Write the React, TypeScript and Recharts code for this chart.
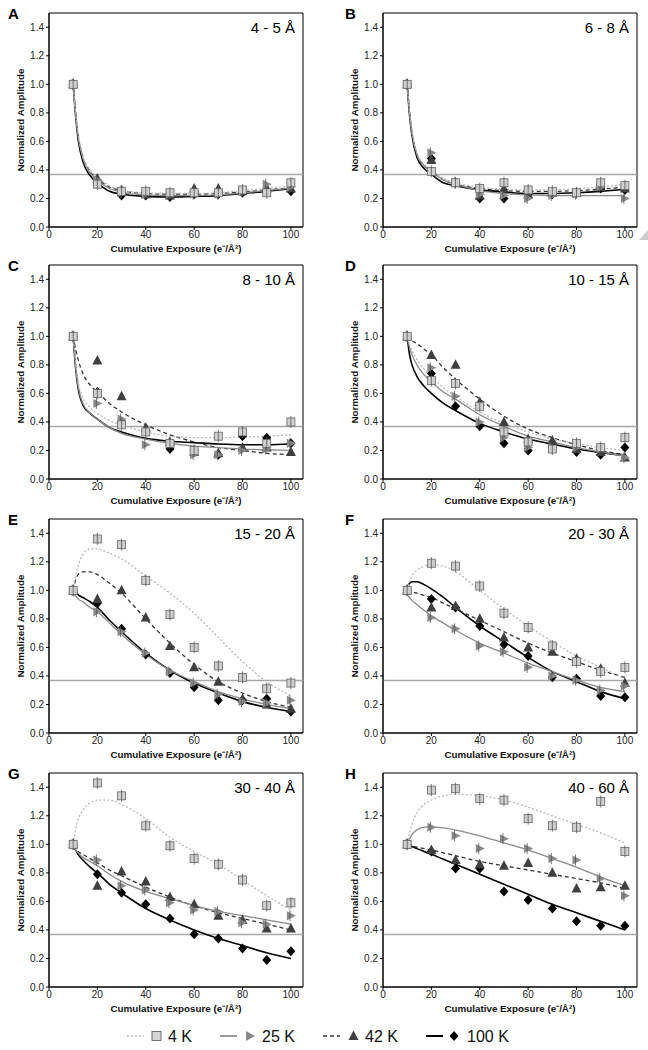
import React from 'react';
import { ComposedChart, Line, Scatter, XAxis, YAxis, ReferenceLine, ReferenceArea } from 'recharts';

// Exposure values of measured points (e-/Å2)
const EXPOSURE = [10, 20, 30, 40, 50, 60, 70, 80, 90, 100];
// Exposure values at which the fitted curves were read
const FIT_X = [10, 11, 12, 14, 17, 20, 25, 30, 40, 50, 60, 70, 80, 90, 100];
const X_TICKS = [0, 20, 40, 60, 80, 100];
const Y_TICKS = [0, 0.2, 0.4, 0.6, 0.8, 1.0, 1.2, 1.4];
const TEMPS = ['4 K', '25 K', '42 K', '100 K'];
const LETTERS = ['A', 'B', 'C', 'D', 'E', 'F', 'G', 'H'];
const TITLES = ['4 - 5 Å', '6 - 8 Å', '8 - 10 Å', '10 - 15 Å', '15 - 20 Å', '20 - 30 Å', '30 - 40 Å', '40 - 60 Å'];
const ONE_OVER_E = 0.368;

// Panel A 4-5 Å
const A_4K = [1.0, 0.30, 0.25, 0.25, 0.24, 0.24, 0.24, 0.26, 0.24, 0.31];
const A_25K = [1.0, 0.33, 0.24, 0.23, 0.23, 0.23, 0.23, 0.25, 0.30, 0.28];
const A_42K = [1.0, 0.34, 0.26, 0.23, 0.22, 0.27, 0.27, 0.25, 0.27, 0.27];
const A_100K = [1.0, 0.32, 0.22, 0.22, 0.21, 0.23, 0.23, 0.24, 0.26, 0.25];
const A_FIT_4K = [1.0, 0.80, 0.66, 0.50, 0.40, 0.35, 0.29, 0.26, 0.24, 0.235, 0.235, 0.24, 0.255, 0.27, 0.29];
const A_FIT_25K = [1.0, 0.79, 0.64, 0.48, 0.38, 0.33, 0.27, 0.245, 0.225, 0.22, 0.22, 0.225, 0.24, 0.255, 0.275];
const A_FIT_42K = [1.0, 0.80, 0.65, 0.49, 0.39, 0.34, 0.28, 0.255, 0.235, 0.23, 0.23, 0.235, 0.245, 0.26, 0.275];
const A_FIT_100K = [1.0, 0.78, 0.62, 0.46, 0.36, 0.31, 0.25, 0.23, 0.215, 0.21, 0.215, 0.22, 0.235, 0.25, 0.27];

// Panel B 6-8 Å
const B_4K = [1.0, 0.39, 0.31, 0.27, 0.31, 0.26, 0.25, 0.24, 0.31, 0.29];
const B_25K = [1.0, 0.52, 0.31, 0.23, 0.22, 0.20, 0.22, 0.23, 0.28, 0.20];
const B_42K = [1.0, 0.47, 0.31, 0.22, 0.27, 0.23, 0.24, 0.24, 0.28, 0.27];
const B_100K = [1.0, 0.48, 0.31, 0.20, 0.20, 0.23, 0.23, 0.24, 0.27, 0.26];
const B_FIT_4K = [1.0, 0.81, 0.67, 0.52, 0.44, 0.40, 0.34, 0.31, 0.28, 0.265, 0.26, 0.26, 0.27, 0.28, 0.30];
const B_FIT_25K = [1.0, 0.80, 0.66, 0.51, 0.43, 0.39, 0.33, 0.30, 0.255, 0.235, 0.225, 0.22, 0.22, 0.22, 0.22];
const B_FIT_42K = [1.0, 0.80, 0.66, 0.51, 0.43, 0.39, 0.33, 0.30, 0.27, 0.255, 0.25, 0.25, 0.255, 0.265, 0.28];
const B_FIT_100K = [1.0, 0.78, 0.64, 0.49, 0.41, 0.37, 0.31, 0.29, 0.26, 0.245, 0.235, 0.235, 0.24, 0.25, 0.265];

// Panel C 8-10 Å
const C_4K = [1.0, 0.60, 0.38, 0.33, 0.25, 0.20, 0.30, 0.33, 0.25, 0.40];
const C_25K = [1.0, 0.53, 0.42, 0.24, 0.25, 0.17, 0.17, 0.20, 0.21, 0.25];
const C_42K = [1.0, 0.83, 0.58, 0.36, 0.26, 0.19, 0.18, 0.22, 0.22, 0.19];
const C_100K = [1.0, 0.61, 0.40, 0.34, 0.21, 0.20, 0.17, 0.30, 0.29, 0.25];
const C_FIT_4K = [1.0, 0.82, 0.69, 0.57, 0.50, 0.46, 0.41, 0.38, 0.33, 0.30, 0.29, 0.29, 0.295, 0.30, 0.31];
const C_FIT_25K = [1.0, 0.79, 0.65, 0.53, 0.46, 0.42, 0.36, 0.32, 0.28, 0.25, 0.23, 0.22, 0.21, 0.205, 0.20];
const C_FIT_42K = [1.0, 0.91, 0.84, 0.74, 0.66, 0.61, 0.53, 0.47, 0.38, 0.31, 0.26, 0.22, 0.20, 0.18, 0.17];
const C_FIT_100K = [1.0, 0.78, 0.64, 0.52, 0.46, 0.42, 0.36, 0.33, 0.285, 0.265, 0.255, 0.245, 0.24, 0.24, 0.245];

// Panel D 10-15 Å
const D_4K = [1.0, 0.69, 0.67, 0.51, 0.33, 0.26, 0.21, 0.25, 0.22, 0.29];
const D_25K = [1.0, 0.78, 0.58, 0.40, 0.29, 0.22, 0.22, 0.22, 0.21, 0.15];
const D_42K = [1.0, 0.87, 0.80, 0.54, 0.40, 0.28, 0.27, 0.21, 0.19, 0.15];
const D_100K = [1.0, 0.74, 0.51, 0.37, 0.25, 0.20, 0.22, 0.19, 0.17, 0.22];
const D_FIT_4K = [1.0, 0.94, 0.90, 0.84, 0.77, 0.72, 0.64, 0.58, 0.47, 0.39, 0.33, 0.28, 0.25, 0.22, 0.20];
const D_FIT_25K = [1.0, 0.92, 0.87, 0.80, 0.73, 0.68, 0.61, 0.56, 0.45, 0.37, 0.30, 0.26, 0.22, 0.19, 0.16];
const D_FIT_42K = [1.0, 0.99, 0.97, 0.95, 0.91, 0.87, 0.78, 0.70, 0.56, 0.44, 0.35, 0.29, 0.24, 0.20, 0.17];
const D_FIT_100K = [1.0, 0.87, 0.80, 0.72, 0.65, 0.60, 0.53, 0.48, 0.39, 0.33, 0.28, 0.245, 0.21, 0.185, 0.165];

// Panel E 15-20 Å
const E_4K = [1.0, 1.36, 1.32, 1.07, 0.83, 0.60, 0.47, 0.39, 0.31, 0.35];
const E_25K = [1.0, 0.85, 0.71, 0.56, 0.43, 0.35, 0.27, 0.22, 0.21, 0.23];
const E_42K = [1.0, 0.94, 1.00, 0.81, 0.61, 0.46, 0.36, 0.24, 0.20, 0.17];
const E_100K = [1.0, 0.91, 0.73, 0.55, 0.42, 0.32, 0.23, 0.23, 0.24, 0.15];
const E_FIT_4K = [1.0, 1.10, 1.17, 1.25, 1.29, 1.29, 1.26, 1.22, 1.10, 0.98, 0.84, 0.67, 0.50, 0.36, 0.26];
const E_FIT_25K = [0.97, 0.96, 0.94, 0.92, 0.88, 0.85, 0.77, 0.69, 0.55, 0.44, 0.36, 0.29, 0.24, 0.20, 0.17];
const E_FIT_42K = [1.0, 1.07, 1.11, 1.13, 1.13, 1.11, 1.05, 0.98, 0.80, 0.63, 0.48, 0.36, 0.28, 0.22, 0.18];
const E_FIT_100K = [1.0, 0.99, 0.97, 0.95, 0.92, 0.88, 0.79, 0.71, 0.56, 0.44, 0.35, 0.28, 0.22, 0.18, 0.15];

// Panel F 20-30 Å
const F_4K = [1.0, 1.19, 1.17, 1.03, 0.84, 0.74, 0.61, 0.50, 0.43, 0.46];
const F_25K = [1.0, 0.81, 0.73, 0.61, 0.57, 0.46, 0.40, 0.37, 0.30, 0.33];
const F_42K = [1.0, 0.88, 0.89, 0.80, 0.67, 0.60, 0.57, 0.52, 0.45, 0.35];
const F_100K = [1.0, 0.94, 0.88, 0.75, 0.62, 0.54, 0.39, 0.38, 0.26, 0.25];
const F_FIT_4K = [1.0, 1.06, 1.10, 1.14, 1.17, 1.18, 1.17, 1.13, 1.00, 0.87, 0.75, 0.64, 0.54, 0.46, 0.38];
const F_FIT_25K = [0.97, 0.95, 0.93, 0.90, 0.86, 0.82, 0.77, 0.72, 0.63, 0.56, 0.49, 0.43, 0.37, 0.32, 0.29];
const F_FIT_42K = [1.0, 0.995, 0.99, 0.98, 0.965, 0.95, 0.91, 0.87, 0.79, 0.71, 0.63, 0.56, 0.50, 0.44, 0.39];
const F_FIT_100K = [1.02, 1.05, 1.06, 1.06, 1.04, 1.01, 0.95, 0.88, 0.75, 0.64, 0.53, 0.43, 0.36, 0.29, 0.24];

// Panel G 30-40 Å
const G_4K = [1.0, 1.43, 1.34, 1.13, 0.99, 0.90, 0.86, 0.75, 0.57, 0.59];
const G_25K = [1.0, 0.89, 0.71, 0.68, 0.59, 0.54, 0.53, 0.45, 0.44, 0.50];
const G_42K = [1.0, 0.71, 0.81, 0.74, 0.63, 0.58, 0.50, 0.47, 0.41, 0.41];
const G_100K = [1.0, 0.79, 0.66, 0.58, 0.48, 0.37, 0.34, 0.27, 0.19, 0.25];
const G_FIT_4K = [1.0, 1.10, 1.17, 1.24, 1.29, 1.31, 1.31, 1.28, 1.18, 1.05, 0.95, 0.86, 0.75, 0.64, 0.54];
const G_FIT_25K = [0.98, 0.96, 0.94, 0.91, 0.88, 0.85, 0.79, 0.74, 0.67, 0.62, 0.57, 0.53, 0.50, 0.47, 0.44];
const G_FIT_42K = [0.99, 0.97, 0.95, 0.93, 0.90, 0.87, 0.82, 0.78, 0.70, 0.63, 0.57, 0.52, 0.48, 0.44, 0.40];
const G_FIT_100K = [0.98, 0.96, 0.93, 0.89, 0.84, 0.80, 0.72, 0.66, 0.55, 0.47, 0.40, 0.34, 0.29, 0.24, 0.20];

// Panel H 40-60 Å
const H_4K = [1.0, 1.38, 1.39, 1.32, 1.31, 1.18, 1.13, 1.12, 1.30, 0.95];
const H_25K = [1.0, 1.12, 1.06, 0.97, 1.04, 0.97, 0.90, 0.89, 0.76, 0.64];
const H_42K = [1.0, 0.96, 0.89, 0.86, 0.85, 0.87, 0.80, 0.69, 0.70, 0.71];
const H_100K = [1.0, 0.95, 0.83, 0.83, 0.67, 0.61, 0.55, 0.46, 0.43, 0.43];
const H_FIT_4K = [1.0, 1.08, 1.14, 1.22, 1.28, 1.31, 1.34, 1.35, 1.34, 1.31, 1.26, 1.20, 1.14, 1.08, 1.01];
const H_FIT_25K = [1.0, 1.04, 1.07, 1.10, 1.12, 1.12, 1.115, 1.10, 1.06, 1.01, 0.96, 0.90, 0.84, 0.77, 0.71];
const H_FIT_42K = [1.0, 0.995, 0.99, 0.98, 0.97, 0.96, 0.94, 0.92, 0.88, 0.85, 0.82, 0.79, 0.76, 0.73, 0.69];
const H_FIT_100K = [1.0, 0.99, 0.985, 0.97, 0.95, 0.93, 0.895, 0.86, 0.79, 0.72, 0.65, 0.58, 0.52, 0.46, 0.40];

const PANEL_POINTS = [
  [A_4K, A_25K, A_42K, A_100K],
  [B_4K, B_25K, B_42K, B_100K],
  [C_4K, C_25K, C_42K, C_100K],
  [D_4K, D_25K, D_42K, D_100K],
  [E_4K, E_25K, E_42K, E_100K],
  [F_4K, F_25K, F_42K, F_100K],
  [G_4K, G_25K, G_42K, G_100K],
  [H_4K, H_25K, H_42K, H_100K],
];
const PANEL_FITS = [
  [A_FIT_4K, A_FIT_25K, A_FIT_42K, A_FIT_100K],
  [B_FIT_4K, B_FIT_25K, B_FIT_42K, B_FIT_100K],
  [C_FIT_4K, C_FIT_25K, C_FIT_42K, C_FIT_100K],
  [D_FIT_4K, D_FIT_25K, D_FIT_42K, D_FIT_100K],
  [E_FIT_4K, E_FIT_25K, E_FIT_42K, E_FIT_100K],
  [F_FIT_4K, F_FIT_25K, F_FIT_42K, F_FIT_100K],
  [G_FIT_4K, G_FIT_25K, G_FIT_42K, G_FIT_100K],
  [H_FIT_4K, H_FIT_25K, H_FIT_42K, H_FIT_100K],
];

const zip = (xs: number[], ys: number[]) => xs.map((x, i) => ({ x, y: ys[i] }));

const FONT = '"Liberation Sans", Arial, Helvetica, sans-serif';

const LINE_STYLES = [
  { stroke: '#b8b8b8', strokeWidth: 1.3, strokeDasharray: '2 2' },
  { stroke: '#8a8a8a', strokeWidth: 1.3, strokeDasharray: undefined },
  { stroke: '#333333', strokeWidth: 1.3, strokeDasharray: '4 3' },
  { stroke: '#000000', strokeWidth: 1.6, strokeDasharray: undefined },
];

const SquareMark = (p: any) => {
  const { cx, cy } = p;
  if (cx == null || cy == null) return <g />;
  return (
    <g>
      <rect x={cx - 4} y={cy - 4} width={8} height={8} fill="#cfcfcf" stroke="#666" strokeWidth={0.8} />
      <line x1={cx} x2={cx} y1={cy - 6} y2={cy + 6} stroke="#555" strokeWidth={0.8} />
    </g>
  );
};
const RightTriMark = (p: any) => {
  const { cx, cy } = p;
  if (cx == null || cy == null) return <g />;
  return (
    <g>
      <polygon points={`${cx - 4},${cy - 4.5} ${cx + 5},${cy} ${cx - 4},${cy + 4.5}`} fill="#8a8a8a" />
      <line x1={cx - 1} x2={cx - 1} y1={cy - 5.5} y2={cy + 5.5} stroke="#555" strokeWidth={0.8} />
    </g>
  );
};
const UpTriMark = (p: any) => {
  const { cx, cy } = p;
  if (cx == null || cy == null) return <g />;
  return <polygon points={`${cx},${cy - 5.5} ${cx + 5},${cy + 4} ${cx - 5},${cy + 4}`} fill="#3f3f3f" />;
};
const DiamondMark = (p: any) => {
  const { cx, cy } = p;
  if (cx == null || cy == null) return <g />;
  return <polygon points={`${cx},${cy - 5} ${cx + 4.5},${cy} ${cx},${cy + 5} ${cx - 4.5},${cy}`} fill="#000" />;
};
const MARKS = [SquareMark, RightTriMark, UpTriMark, DiamondMark];

const CHART_W = 324;
const MARGIN_TOP = 13;
const PLOT_H = 214;
const XAXIS_H = 34;
const YAXIS_W = 33;
const COLS = [
  { left: 0, ml: 16, mr: 21 },
  { left: 324, ml: 26, mr: 11 },
];
const ROW_TOPS = [0, 252, 506, 760];

function Panel({ idx }: { idx: number }) {
  const col = COLS[idx % 2];
  const top = ROW_TOPS[Math.floor(idx / 2)];
  const pts = PANEL_POINTS[idx];
  const fits = PANEL_FITS[idx];
  const drawOrder = [3, 2, 1, 0];
  return (
    <div style={{ position: 'absolute', left: col.left, top }}>
      <ComposedChart
        width={CHART_W}
        height={MARGIN_TOP + PLOT_H + XAXIS_H}
        margin={{ top: MARGIN_TOP, right: col.mr, bottom: 0, left: col.ml }}
        style={{ overflow: 'visible' }}
      >
        <XAxis
          type="number"
          dataKey="x"
          domain={[0, 105]}
          ticks={X_TICKS}
          allowDataOverflow
          height={XAXIS_H}
          tickSize={3}
          tickMargin={1}
          stroke="#000"
          tick={{ fontSize: 10, fill: '#222', fontFamily: FONT }}
          label={{
            value: 'Cumulative Exposure (e⁻/Å²)',
            position: 'insideBottom',
            offset: 9,
            style: { fontSize: 9.8, fontWeight: 'bold', fill: '#111', fontFamily: FONT },
          }}
        />
        <YAxis
          type="number"
          dataKey="y"
          domain={[0, 1.5]}
          ticks={Y_TICKS}
          allowDataOverflow
          width={YAXIS_W}
          tickSize={3}
          tickMargin={2}
          stroke="#000"
          tickFormatter={(v: number) => v.toFixed(1)}
          tick={{ fontSize: 10, fill: '#222', fontFamily: FONT }}
        />
        <ReferenceArea x1={0} x2={105} y1={0} y2={1.5} fill="none" fillOpacity={0} stroke="#000" strokeWidth={1} />
        <ReferenceLine y={ONE_OVER_E} stroke="#a8a8a8" strokeWidth={1.5} />
        {drawOrder.map((s) => (
          <Line
            key={'fit' + s}
            data={zip(FIT_X, fits[s])}
            dataKey="y"
            type="monotone"
            dot={false}
            activeDot={false}
            isAnimationActive={false}
            stroke={LINE_STYLES[s].stroke}
            strokeWidth={LINE_STYLES[s].strokeWidth}
            strokeDasharray={LINE_STYLES[s].strokeDasharray}
          />
        ))}
        {drawOrder.map((s) => (
          <Scatter
            key={'pts' + s}
            name={TEMPS[s]}
            data={zip(EXPOSURE, pts[s])}
            dataKey="y"
            shape={MARKS[s]}
            isAnimationActive={false}
          />
        ))}
      </ComposedChart>
    </div>
  );
}

function Overlay() {
  const items: any[] = [];
  for (let i = 0; i < 8; i++) {
    const col = COLS[i % 2];
    const plotTop = ROW_TOPS[Math.floor(i / 2)] + MARGIN_TOP;
    const plotLeft = col.left + col.ml + YAXIS_W;
    const plotRight = col.left + CHART_W - col.mr;
    items.push(
      <text key={'l' + i} x={i % 2 === 0 ? 8 : 345} y={plotTop + 6} fontSize={15} fontWeight="bold" fill="#000" fontFamily={FONT}>
        {LETTERS[i]}
      </text>
    );
    items.push(
      <text key={'t' + i} x={plotRight - 8} y={plotTop + 20} fontSize={15} textAnchor="end" fill="#000" fontFamily={FONT}>
        {TITLES[i]}
      </text>
    );
    items.push(
      <text
        key={'y' + i}
        x={plotLeft - 29}
        y={plotTop + 107}
        transform={`rotate(-90 ${plotLeft - 29} ${plotTop + 107})`}
        textAnchor="middle"
        dominantBaseline="central"
        fontSize={9.8}
        fontWeight="bold"
        fill="#111"
        fontFamily={FONT}
      >
        Normalized Amplitude
      </text>
    );
  }
  const legendY = 1036;
  const legendItems = [
    { lx: 127, mx: 156.5, tx: 168 },
    { lx: 220, mx: 250, tx: 262 },
    { lx: 323, mx: 353.5, tx: 365 },
    { lx: 426, mx: 454, tx: 467 },
  ];
  legendItems.forEach((it, s) => {
    const st = LINE_STYLES[s];
    const Mark = MARKS[s];
    items.push(
      <g key={'leg' + s}>
        <line x1={it.lx} x2={it.lx + 17} y1={legendY} y2={legendY} stroke={st.stroke} strokeWidth={st.strokeWidth + 0.4} strokeDasharray={st.strokeDasharray} />
        {s === 0 ? (
          <rect x={it.mx - 4.5} y={legendY - 4.5} width={9} height={9} fill="#d4d4d4" stroke="#555" strokeWidth={0.8} />
        ) : s === 1 ? (
          <polygon points={`${it.mx - 4},${legendY - 5} ${it.mx + 5},${legendY} ${it.mx - 4},${legendY + 5}`} fill="#8a8a8a" />
        ) : (
          <Mark cx={it.mx} cy={legendY} />
        )}
        <text x={it.tx} y={legendY + 6} fontSize={16} fill="#111" fontFamily={FONT}>
          {TEMPS[s]}
        </text>
      </g>
    );
  });
  items.push(<polygon key="tri" points="639,240 648,230 648,240" fill="#cccccc" />);
  return (
    <svg width={648} height={1050} style={{ position: 'absolute', left: 0, top: 0, pointerEvents: 'none' }}>
      {items}
    </svg>
  );
}

export default function App() {
  return (
    <div style={{ position: 'absolute', left: 0, top: 0, width: 648, height: 1050, background: '#fff', fontFamily: FONT }}>
      {LETTERS.map((_, i) => (
        <Panel key={i} idx={i} />
      ))}
      <Overlay />
    </div>
  );
}
